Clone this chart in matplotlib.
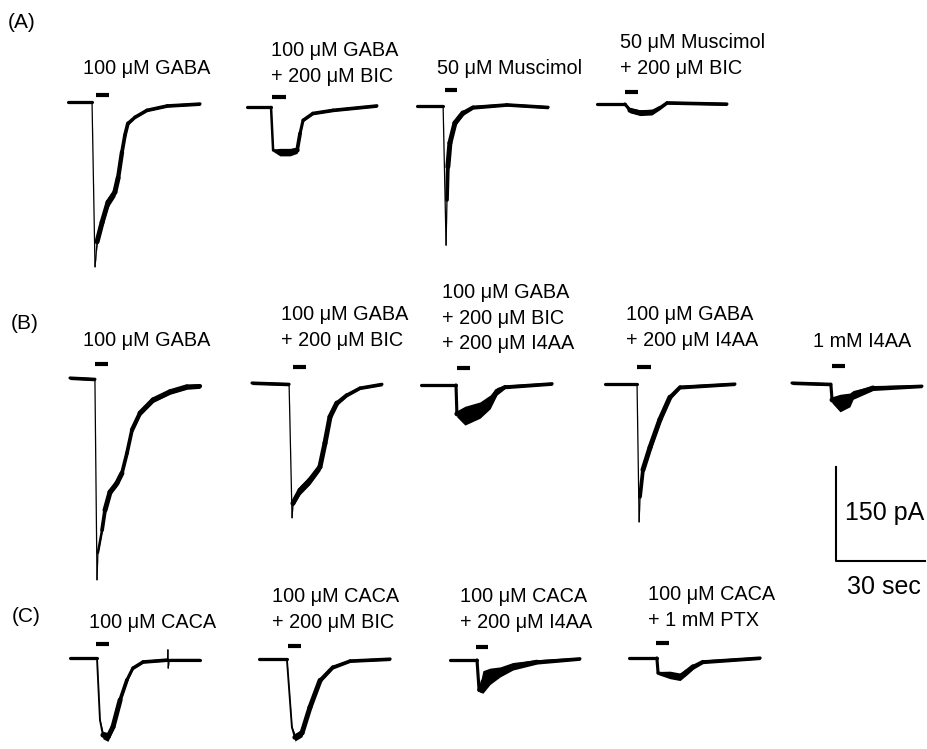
import matplotlib
matplotlib.use("Agg")
import numpy as np
import matplotlib.pyplot as plt
from matplotlib.collections import LineCollection

# ---- trace data: time (s), current (pA), noise band width (pA)
a1_t = [0, 8.1, 9.1, 9.8, 11.5, 13.5, 15.8, 16.9, 18.2, 19.2, 20.2, 22.6, 26.6, 33.4, 44.5]
a1_i = [0, 0, -263, -223, -192, -160, -144, -121, -80, -53, -34, -24, -13, -6, -3]
a1_w = [5, 5, 2, 12, 16, 16, 14, 10, 7, 6, 6, 5, 5, 5, 5]

a2_t = [0, 8.1, 8.8, 11.1, 14.5, 16.9, 17.9, 18.9, 22.2, 29.0, 43.8]
a2_i = [0, 0, -69, -72, -72, -69, -42, -21, -10, -5, 2]
a2_w = [5, 5, 4, 12, 12, 10, 6, 5, 5, 5, 5]

a3_t = [0, 8.8, 9.8, 10.1, 10.4, 11.1, 12.8, 15.5, 18.9, 30.3, 44.2]
a3_i = [0, 0, -222, -150, -97, -59, -27, -11, -2, 2, -2]
a3_w = [5, 5, 2, 6, 10, 12, 10, 8, 6, 5, 5]

a4_t = [0, 9.4, 11.1, 14.5, 18.5, 21.2, 23.6, 43.8]
a4_i = [0, 0, -10, -14, -13, -6, 2, 0]
a4_w = [5, 5, 8, 9, 9, 6, 5, 5]

b1_t = [0, 8.4, 9.1, 9.4, 10.8, 11.8, 13.5, 15.8, 17.5, 19.2, 20.9, 23.6, 28.0, 33.7, 39.4, 43.8]
b1_i = [0, -2, -322, -279, -243, -211, -182, -168, -152, -120, -83, -56, -35, -22, -14, -13]
b1_w = [5, 5, 2, 4, 6, 8, 10, 10, 8, 6, 7, 8, 8, 8, 8, 7]

b2_t = [0, 12.5, 13.5, 13.8, 16.2, 19.5, 22.9, 24.6, 26.3, 28.6, 32.0, 36.4, 43.8]
b2_i = [0, -2, -215, -192, -171, -155, -134, -96, -54, -32, -19, -8, -2]
b2_w = [5, 5, 2, 8, 14, 14, 12, 8, 8, 8, 6, 5, 5]

b3_t = [0, 11.8, 12.1, 14.8, 19.9, 23.3, 25.6, 28.3, 44.2]
b3_i = [0, 0, -46, -49, -40, -27, -10, -3, 2]
b3_w = [5, 5, 10, 30, 26, 22, 12, 6, 5]

b4_t = [0, 10.8, 11.5, 11.8, 12.8, 15.2, 18.5, 21.9, 25.3, 43.8]
b4_i = [0, 0, -220, -180, -137, -101, -57, -21, -5, 0]
b4_w = [5, 5, 2, 6, 10, 14, 12, 8, 6, 5]

b5_t = [0, 13.1, 13.5, 16.2, 19.5, 20.6, 27.3, 43.8]
b5_i = [0, -2, -27, -32, -27, -19, -8, -5]
b5_w = [5, 5, 10, 28, 22, 14, 8, 5]

c1_t = [0, 9.1, 10.1, 11.1, 12.8, 14.5, 16.9, 19.2, 21.2, 24.6, 32.9, 33.0, 33.1, 33.4, 43.8]
c1_i = [0, 0, -99, -123, -126, -110, -67, -35, -16, -6, -3, 13, -16, -3, -3]
c1_w = [5, 5, 3, 12, 14, 10, 8, 6, 5, 5, 5, 2, 2, 5, 5]

c2_t = [0, 9.4, 11.1, 12.1, 14.5, 17.2, 20.6, 24.9, 30.7, 44.2]
c2_i = [0, 0, -109, -125, -118, -77, -34, -13, -3, 0]
c2_w = [5, 5, 3, 12, 12, 8, 8, 6, 5, 5]

c3_t = [0, 9.1, 9.8, 11.1, 13.5, 16.9, 21.2, 29.3, 43.8]
c3_i = [0, 0, -48, -35, -26, -19, -10, -3, 2]
c3_w = [5, 5, 6, 36, 26, 16, 12, 7, 5]

c4_t = [0, 9.4, 9.8, 13.8, 17.2, 19.5, 21.6, 24.9, 44.2]
c4_i = [0, 0, -24, -27, -30, -22, -14, -6, 0]
c4_w = [5, 5, 5, 12, 12, 10, 8, 6, 5]

# drug application (on, off) in s
a_apps = [(9.4, 13.8), (8.4, 13.1), (9.4, 13.5), (9.4, 13.8)]
b_apps = [(8.4, 12.8), (13.8, 18.2), (12.1, 16.5), (10.8, 15.5), (13.5, 17.9)]
c_apps = [(8.8, 13.1), (9.8, 14.2), (8.8, 12.8), (9.1, 13.5)]

a_labels = [["100 μM GABA"], ["100 μM GABA", "+ 200 μM BIC"],
            ["50 μM Muscimol"], ["50 μM Muscimol", "+ 200 μM BIC"]]
b_labels = [["100 μM GABA"], ["100 μM GABA", "+ 200 μM BIC"],
            ["100 μM GABA", "+ 200 μM BIC", "+ 200 μM I4AA"],
            ["100 μM GABA", "+ 200 μM I4AA"], ["1 mM I4AA"]]
c_labels = [["100 μM CACA"], ["100 μM CACA", "+ 200 μM BIC"],
            ["100 μM CACA", "+ 200 μM I4AA"], ["100 μM CACA", "+ 1 mM PTX"]]

scale_pa = 150
scale_s = 30

# ---- layout (pixels in a 927x749 canvas)
W, H = 927, 749
PX_PER_S = 89 / 30
PX_PER_PA = 94 / 150
PT_PER_PX = 72 / 100

traces = [(a1_t, a1_i, a1_w), (a2_t, a2_i, a2_w), (a3_t, a3_i, a3_w), (a4_t, a4_i, a4_w),
          (b1_t, b1_i, b1_w), (b2_t, b2_i, b2_w), (b3_t, b3_i, b3_w), (b4_t, b4_i, b4_w),
          (b5_t, b5_i, b5_w),
          (c1_t, c1_i, c1_w), (c2_t, c2_i, c2_w), (c3_t, c3_i, c3_w), (c4_t, c4_i, c4_w)]
apps = a_apps + b_apps + c_apps
labels = a_labels + b_labels + c_labels

# trace origin (x, y baseline) and bar height above baseline, px
origins = [(68, 102), (247, 107), (417, 106), (597, 104),
           (70, 378), (252, 383), (421, 385), (605, 384), (792, 383),
           (70, 658), (259, 659), (450, 660), (629, 658)]
bar_dy = [7, 10, 16, 12, 14, 16, 17, 17, 17, 14, 13, 13, 15]
# label left x, first line center y
label_pos = [(83, 68), (271, 50), (437, 69), (620, 43),
             (83, 341), (281, 315), (442, 292), (626, 315), (813, 342),
             (89, 623), (272, 597), (460, 597), (648, 595)]
line_gap = 26

fig = plt.figure(figsize=(W / 100, H / 100), dpi=100)
ax = fig.add_axes([0, 0, 1, 1])
ax.set_xlim(0, W / PX_PER_S)
ax.set_ylim(-H / PX_PER_PA, 0)
ax.axis("off")

for (t, cur, w), (x0, y0), (on, off), dy in zip(traces, origins, apps, bar_dy):
    t = np.array(t) + x0 / PX_PER_S
    cur = np.array(cur) - y0 / PX_PER_PA
    w = np.array(w, dtype=float)
    # vertical noise envelope
    ax.fill_between(t, cur - w / 2, cur + w / 2, color="black", lw=0)
    # stroke along the trace so steep parts keep some thickness
    pts = np.column_stack([t, cur])
    segs = np.stack([pts[:-1], pts[1:]], axis=1)
    lws = np.minimum(np.minimum(w[:-1], w[1:]), 8) * PX_PER_PA * PT_PER_PX
    ax.add_collection(LineCollection(segs, linewidths=lws, colors="black",
                                     capstyle="round", joinstyle="round"))
    yb = (dy - y0) / PX_PER_PA
    ax.plot([x0 / PX_PER_S + on, x0 / PX_PER_S + off], [yb, yb],
            color="black", lw=3, solid_capstyle="butt")

font = "Liberation Sans"
for lines, (lx, ly) in zip(labels, label_pos):
    for k, s in enumerate(lines):
        fig.text(lx / W, 1 - (ly + k * line_gap) / H, s, ha="left", va="center",
                 fontsize=14.3, family=font, color="black")

for s, (px, py) in [("(A)", (8, 23)), ("(B)", (11, 323)), ("(C)", (12, 617))]:
    fig.text(px / W, 1 - py / H, s, ha="left", va="center", fontsize=15, family=font)

# scale bar
sx0, sy0 = 836, 561
ax.plot([sx0 / PX_PER_S, sx0 / PX_PER_S, sx0 / PX_PER_S + scale_s],
        [-sy0 / PX_PER_PA + scale_pa, -sy0 / PX_PER_PA, -sy0 / PX_PER_PA],
        color="black", lw=1.5)
fig.text(845 / W, 1 - 513 / H, f"{scale_pa} pA", ha="left", va="center", fontsize=18, family=font)
fig.text(847 / W, 1 - 587 / H, f"{scale_s} sec", ha="left", va="center", fontsize=18, family=font)

fig.savefig("out.png", dpi=100)
